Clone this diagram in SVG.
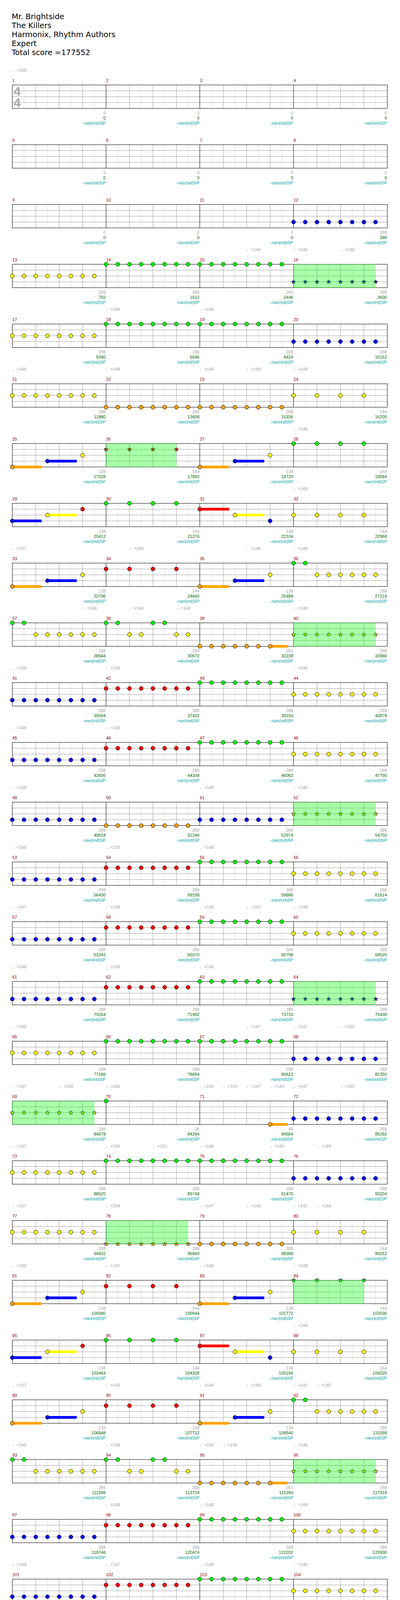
<svg xmlns="http://www.w3.org/2000/svg" xmlns:xlink="http://www.w3.org/1999/xlink" width="1024" height="5572" viewBox="0 0 1024 5572">
<style>
text{font-family:"Liberation Sans",Arial,"DejaVu Sans",sans-serif;font-size:11px}
.hd{font-family:"DejaVu Sans",Verdana,sans-serif;font-size:19.5px;fill:#000}
.n{fill:#8b0000}
.tp{fill:#a0a0a0}
.v1,.v2,.v3{text-anchor:end}
.v1{fill:#a0a0a0}
.v2{fill:#006400}
.v3{fill:#009f9f}
.sp{fill:#00ff00;fill-opacity:.333}
.ts{font-weight:bold;font-size:32px;fill:#a8a8a8}
</style>
<defs>
<g id="grid"><path d="M30 0V60M90 0V60M150 0V60M210 0V60" stroke="#dcdcdc"/><path d="M0 15H240M0 30H240M0 45H240M60 0V60M120 0V60M180 0V60" stroke="#a0a0a0"/></g>
<g id="grid4"><use href="#grid"/><use href="#grid" x="240"/><use href="#grid" x="480"/><use href="#grid" x="720"/><path d="M240 0V60M480 0V60M720 0V60" stroke="#000"/><rect width="960" height="60" fill="none" stroke="#000"/></g>
<g id="grid2"><use href="#grid"/><use href="#grid" x="240"/><path d="M240 0V60" stroke="#000"/><rect width="480" height="60" fill="none" stroke="#000"/></g>
<circle id="G" r="5" fill="#00ff00" stroke="#000"/>
<circle id="R" cy="15" r="5" fill="#ff0000" stroke="#000"/>
<circle id="Y" cy="30" r="5" fill="#ffff00" stroke="#000"/>
<circle id="B" cy="45" r="5" fill="#0000ff" stroke="#000"/>
<circle id="O" cy="60" r="5" fill="#ffa500" stroke="#000"/>
<path id="star" d="M0-5.5L1.35-1.86 5.23-1.7 2.19.71 3.23 4.45 0 2.3-3.23 4.45-2.19.71-5.23-1.7-1.35-1.86Z" stroke="#000"/>
<use id="GS" href="#star" fill="#00ff00"/>
<use id="RS" href="#star" y="15" fill="#ff0000"/>
<use id="YS" href="#star" y="30" fill="#ffff00"/>
<use id="BS" href="#star" y="45" fill="#0000ff"/>
<use id="OS" href="#star" y="60" fill="#ffa500"/>
<g id="e8G"><use href="#G"/><use href="#G" x="30"/><use href="#G" x="60"/><use href="#G" x="90"/><use href="#G" x="120"/><use href="#G" x="150"/><use href="#G" x="180"/><use href="#G" x="210"/></g>
<g id="e8R"><use href="#R"/><use href="#R" x="30"/><use href="#R" x="60"/><use href="#R" x="90"/><use href="#R" x="120"/><use href="#R" x="150"/><use href="#R" x="180"/><use href="#R" x="210"/></g>
<g id="e8Y"><use href="#Y"/><use href="#Y" x="30"/><use href="#Y" x="60"/><use href="#Y" x="90"/><use href="#Y" x="120"/><use href="#Y" x="150"/><use href="#Y" x="180"/><use href="#Y" x="210"/></g>
<g id="e8B"><use href="#B"/><use href="#B" x="30"/><use href="#B" x="60"/><use href="#B" x="90"/><use href="#B" x="120"/><use href="#B" x="150"/><use href="#B" x="180"/><use href="#B" x="210"/></g>
<g id="e8O"><use href="#O"/><use href="#O" x="30"/><use href="#O" x="60"/><use href="#O" x="90"/><use href="#O" x="120"/><use href="#O" x="150"/><use href="#O" x="180"/><use href="#O" x="210"/></g>
<g id="e8YS"><use href="#YS"/><use href="#YS" x="30"/><use href="#YS" x="60"/><use href="#YS" x="90"/><use href="#YS" x="120"/><use href="#YS" x="150"/><use href="#YS" x="180"/><use href="#YS" x="210"/></g>
<g id="e8BS"><use href="#BS"/><use href="#BS" x="30"/><use href="#BS" x="60"/><use href="#BS" x="90"/><use href="#BS" x="120"/><use href="#BS" x="150"/><use href="#BS" x="180"/><use href="#BS" x="210"/></g>
<g id="e8OS"><use href="#OS"/><use href="#OS" x="30"/><use href="#OS" x="60"/><use href="#OS" x="90"/><use href="#OS" x="120"/><use href="#OS" x="150"/><use href="#OS" x="180"/><use href="#OS" x="210"/></g>
<g id="e7G"><use href="#G"/><use href="#G" x="30"/><use href="#G" x="60"/><use href="#G" x="90"/><use href="#G" x="120"/><use href="#G" x="150"/><use href="#G" x="180"/></g>
<g id="e7R"><use href="#R"/><use href="#R" x="30"/><use href="#R" x="60"/><use href="#R" x="90"/><use href="#R" x="120"/><use href="#R" x="150"/><use href="#R" x="180"/></g>
<g id="q4G"><use href="#G"/><use href="#G" x="60"/><use href="#G" x="120"/><use href="#G" x="180"/></g>
<g id="q4R"><use href="#R"/><use href="#R" x="60"/><use href="#R" x="120"/><use href="#R" x="180"/></g>
<g id="q4Y"><use href="#Y"/><use href="#Y" x="60"/><use href="#Y" x="120"/><use href="#Y" x="180"/></g>
<g id="q4RS"><use href="#RS"/><use href="#RS" x="60"/><use href="#RS" x="120"/><use href="#RS" x="180"/></g>
<g id="q4GS"><use href="#GS"/><use href="#GS" x="60"/><use href="#GS" x="120"/><use href="#GS" x="180"/></g>
<g id="rA"><rect y="56.5" width="75" height="7" fill="#ffa500"/><rect x="90" y="41.5" width="75" height="7" fill="#0000ff"/><use href="#O"/><use href="#B" x="90"/><use href="#Y" x="180"/></g>
<g id="rB"><rect y="41.5" width="75" height="7" fill="#0000ff"/><rect x="90" y="26.5" width="75" height="7" fill="#ffff00"/><use href="#B"/><use href="#Y" x="90"/><use href="#R" x="180"/></g>
<g id="rC"><rect y="11.5" width="75" height="7" fill="#ff0000"/><rect x="90" y="26.5" width="75" height="7" fill="#ffff00"/><use href="#R"/><use href="#Y" x="90"/><use href="#B" x="180"/></g>
<g id="rD"><use href="#G"/><use href="#G" x="30"/><use href="#Y" x="60"/><use href="#Y" x="90"/><use href="#Y" x="120"/><use href="#Y" x="150"/><use href="#Y" x="180"/><use href="#Y" x="210"/></g>
<g id="rE"><use href="#G"/><use href="#G" x="30"/><use href="#Y" x="60"/><use href="#Y" x="90"/><use href="#G" x="120"/><use href="#G" x="150"/><use href="#Y" x="180"/><use href="#Y" x="210"/></g>
<g id="rF"><rect x="180" y="56.5" width="45" height="7" fill="#ffa500"/><use href="#O"/><use href="#O" x="30"/><use href="#O" x="60"/><use href="#O" x="90"/><use href="#O" x="120"/><use href="#O" x="150"/><use href="#O" x="180"/></g>
</defs>
<rect width="1024" height="5572" fill="#fff"/>
<g id="header">
<text class="hd" x="30" y="49">Mr. Brightside</text>
<text class="hd" x="30" y="72">The Killers</text>
<text class="hd" x="30" y="95">Harmonix, Rhythm Authors</text>
<text class="hd" x="30" y="118">Expert</text>
<text class="hd" x="30" y="141">Total score =177552</text>
</g>

<g id="row1" transform="translate(31.5,217.5)">
<use href="#grid4"/>
<text class="ts" x="3.5" y="27.5">4</text><text class="ts" x="3.5" y="56.5">4</text>
<text class="tp" x="0" y="-33.5">♩=148</text>
<g id="m1"><text class="n" x="0" y="-7.5">1</text><text class="v1" x="239" y="75">0</text><text class="v2" x="239" y="88">0</text><text class="v3" x="239" y="101">-nan(ind)SP</text></g>
<g id="m2"><text class="n" x="240" y="-7.5">2</text><text class="v1" x="479" y="75">0</text><text class="v2" x="479" y="88">0</text><text class="v3" x="479" y="101">-nan(ind)SP</text></g>
<g id="m3"><text class="n" x="480" y="-7.5">3</text><text class="v1" x="719" y="75">0</text><text class="v2" x="719" y="88">0</text><text class="v3" x="719" y="101">-nan(ind)SP</text></g>
<g id="m4"><text class="n" x="720" y="-7.5">4</text><text class="v1" x="959" y="75">0</text><text class="v2" x="959" y="88">0</text><text class="v3" x="959" y="101">-nan(ind)SP</text></g>
</g>

<g id="row2" transform="translate(31.5,370.5)">
<use href="#grid4"/>
<g id="m5"><text class="n" x="0" y="-7.5">5</text><text class="v1" x="239" y="75">0</text><text class="v2" x="239" y="88">0</text><text class="v3" x="239" y="101">-nan(ind)SP</text></g>
<g id="m6"><text class="n" x="240" y="-7.5">6</text><text class="v1" x="479" y="75">0</text><text class="v2" x="479" y="88">0</text><text class="v3" x="479" y="101">-nan(ind)SP</text></g>
<g id="m7"><text class="n" x="480" y="-7.5">7</text><text class="v1" x="719" y="75">0</text><text class="v2" x="719" y="88">0</text><text class="v3" x="719" y="101">-nan(ind)SP</text></g>
<g id="m8"><text class="n" x="720" y="-7.5">8</text><text class="v1" x="959" y="75">0</text><text class="v2" x="959" y="88">0</text><text class="v3" x="959" y="101">-nan(ind)SP</text></g>
</g>

<g id="row3" transform="translate(31.5,523.5)">
<use href="#grid4"/>
<g id="m9"><text class="n" x="0" y="-7.5">9</text><text class="v1" x="239" y="75">0</text><text class="v2" x="239" y="88">0</text><text class="v3" x="239" y="101">-nan(ind)SP</text></g>
<g id="m10"><text class="n" x="240" y="-7.5">10</text><text class="v1" x="479" y="75">0</text><text class="v2" x="479" y="88">0</text><text class="v3" x="479" y="101">-nan(ind)SP</text></g>
<g id="m11"><text class="n" x="480" y="-7.5">11</text><text class="v1" x="719" y="75">0</text><text class="v2" x="719" y="88">0</text><text class="v3" x="719" y="101">-nan(ind)SP</text></g>
<g id="m12"><text class="n" x="720" y="-7.5">12</text><use href="#e8B" x="720"/><text class="v1" x="959" y="75">288</text><text class="v2" x="959" y="88">288</text><text class="v3" x="959" y="101">-nan(ind)SP</text></g>
</g>

<g id="row4" transform="translate(31.5,676.5)">
<use href="#grid4"/>
<text class="tp" x="600" y="-33.5">♩=145</text><text class="tp" x="720" y="-33.5">♩=146</text><text class="tp" x="840" y="-33.5">♩=148</text>
<g id="m13"><text class="n" x="0" y="-7.5">13</text><use href="#e8Y"/><text class="v1" x="239" y="75">288</text><text class="v2" x="239" y="88">792</text><text class="v3" x="239" y="101">-nan(ind)SP</text></g>
<g id="m14"><text class="n" x="240" y="-7.5">14</text><use href="#e8G" x="240"/><text class="v1" x="479" y="75">288</text><text class="v2" x="479" y="88">1512</text><text class="v3" x="479" y="101">-nan(ind)SP</text></g>
<g id="m15"><text class="n" x="480" y="-7.5">15</text><use href="#e8G" x="480"/><text class="v1" x="719" y="75">288</text><text class="v2" x="719" y="88">2448</text><text class="v3" x="719" y="101">-nan(ind)SP</text></g>
<g id="m16"><text class="n" x="720" y="-7.5">16</text><use href="#e8BS" x="720"/><rect class="sp" x="719.5" y="-0.5" width="210.5" height="61"/><text class="v1" x="959" y="75">288</text><text class="v2" x="959" y="88">3600</text><text class="v3" x="959" y="101">-nan(ind)SP</text></g>
</g>

<g id="row5" transform="translate(31.5,829.5)">
<use href="#grid4"/>
<text class="tp" x="240" y="-33.5">♩=149</text><text class="tp" x="480" y="-33.5">♩=149</text>
<g id="m17"><text class="n" x="0" y="-7.5">17</text><use href="#e8Y"/><text class="v1" x="239" y="75">288</text><text class="v2" x="239" y="88">5040</text><text class="v3" x="239" y="101">-nan(ind)SP</text></g>
<g id="m18"><text class="n" x="240" y="-7.5">18</text><use href="#e8G" x="240"/><text class="v1" x="479" y="75">288</text><text class="v2" x="479" y="88">6696</text><text class="v3" x="479" y="101">-nan(ind)SP</text></g>
<g id="m19"><text class="n" x="480" y="-7.5">19</text><use href="#e8G" x="480"/><text class="v1" x="719" y="75">288</text><text class="v2" x="719" y="88">8424</text><text class="v3" x="719" y="101">-nan(ind)SP</text></g>
<g id="m20"><text class="n" x="720" y="-7.5">20</text><use href="#e8B" x="720"/><text class="v1" x="959" y="75">288</text><text class="v2" x="959" y="88">10152</text><text class="v3" x="959" y="101">-nan(ind)SP</text></g>
</g>

<g id="row6" transform="translate(31.5,982.5)">
<use href="#grid4"/>
<text class="tp" x="0" y="-33.5">♩=146</text><text class="tp" x="240" y="-33.5">♩=148</text><text class="tp" x="480" y="-33.5">♩=148</text><text class="tp" x="600" y="-33.5">♩=149</text><text class="tp" x="720" y="-33.5">♩=148</text>
<g id="m21"><text class="n" x="0" y="-7.5">21</text><use href="#e8Y"/><text class="v1" x="239" y="75">288</text><text class="v2" x="239" y="88">11880</text><text class="v3" x="239" y="101">-nan(ind)SP</text></g>
<g id="m22"><text class="n" x="240" y="-7.5">22</text><use href="#e8O" x="240"/><text class="v1" x="479" y="75">288</text><text class="v2" x="479" y="88">13608</text><text class="v3" x="479" y="101">-nan(ind)SP</text></g>
<g id="m23"><text class="n" x="480" y="-7.5">23</text><use href="#e8O" x="480"/><text class="v1" x="719" y="75">288</text><text class="v2" x="719" y="88">15336</text><text class="v3" x="719" y="101">-nan(ind)SP</text></g>
<g id="m24"><text class="n" x="720" y="-7.5">24</text><use href="#q4Y" x="720"/><text class="v1" x="959" y="75">144</text><text class="v2" x="959" y="88">16200</text><text class="v3" x="959" y="101">-nan(ind)SP</text></g>
</g>

<g id="row7" transform="translate(31.5,1135.5)">
<use href="#grid4"/>
<text class="tp" x="720" y="-33.5">♩=148</text>
<g id="m25"><text class="n" x="0" y="-7.5">25</text><use href="#rA"/><text class="v1" x="239" y="75">138</text><text class="v2" x="239" y="88">17028</text><text class="v3" x="239" y="101">-nan(ind)SP</text></g>
<g id="m26"><text class="n" x="240" y="-7.5">26</text><use href="#q4RS" x="240"/><rect class="sp" x="239.5" y="-0.5" width="180.5" height="61"/><text class="v1" x="479" y="75">144</text><text class="v2" x="479" y="88">17892</text><text class="v3" x="479" y="101">-nan(ind)SP</text></g>
<g id="m27"><text class="n" x="480" y="-7.5">27</text><use href="#rA" x="480"/><text class="v1" x="719" y="75">138</text><text class="v2" x="719" y="88">18720</text><text class="v3" x="719" y="101">-nan(ind)SP</text></g>
<g id="m28"><text class="n" x="720" y="-7.5">28</text><use href="#q4G" x="720"/><text class="v1" x="959" y="75">144</text><text class="v2" x="959" y="88">19584</text><text class="v3" x="959" y="101">-nan(ind)SP</text></g>
</g>

<g id="row8" transform="translate(31.5,1288.5)">
<use href="#grid4"/>
<text class="tp" x="720" y="-33.5">♩=149</text>
<g id="m29"><text class="n" x="0" y="-7.5">29</text><use href="#rB"/><text class="v1" x="239" y="75">138</text><text class="v2" x="239" y="88">20412</text><text class="v3" x="239" y="101">-nan(ind)SP</text></g>
<g id="m30"><text class="n" x="240" y="-7.5">30</text><use href="#q4G" x="240"/><text class="v1" x="479" y="75">144</text><text class="v2" x="479" y="88">21276</text><text class="v3" x="479" y="101">-nan(ind)SP</text></g>
<g id="m31"><text class="n" x="480" y="-7.5">31</text><use href="#rC" x="480"/><text class="v1" x="719" y="75">138</text><text class="v2" x="719" y="88">22104</text><text class="v3" x="719" y="101">-nan(ind)SP</text></g>
<g id="m32"><text class="n" x="720" y="-7.5">32</text><use href="#q4Y" x="720"/><text class="v1" x="959" y="75">144</text><text class="v2" x="959" y="88">22968</text><text class="v3" x="959" y="101">-nan(ind)SP</text></g>
</g>

<g id="row9" transform="translate(31.5,1441.5)">
<use href="#grid4"/>
<text class="tp" x="0" y="-33.5">♩=147</text><text class="tp" x="300" y="-33.5">♩=150</text><text class="tp" x="600" y="-33.5">♩=146</text><text class="tp" x="720" y="-33.5">♩=148</text>
<g id="m33"><text class="n" x="0" y="-7.5">33</text><use href="#rA"/><text class="v1" x="239" y="75">138</text><text class="v2" x="239" y="88">23796</text><text class="v3" x="239" y="101">-nan(ind)SP</text></g>
<g id="m34"><text class="n" x="240" y="-7.5">34</text><use href="#q4R" x="240"/><text class="v1" x="479" y="75">144</text><text class="v2" x="479" y="88">24660</text><text class="v3" x="479" y="101">-nan(ind)SP</text></g>
<g id="m35"><text class="n" x="480" y="-7.5">35</text><use href="#rA" x="480"/><text class="v1" x="719" y="75">138</text><text class="v2" x="719" y="88">25488</text><text class="v3" x="719" y="101">-nan(ind)SP</text></g>
<g id="m36"><text class="n" x="720" y="-7.5">36</text><use href="#rD" x="720"/><text class="v1" x="959" y="75">288</text><text class="v2" x="959" y="88">27216</text><text class="v3" x="959" y="101">-nan(ind)SP</text></g>
</g>

<g id="row10" transform="translate(31.5,1594.5)">
<use href="#grid4"/>
<text class="tp" x="180" y="-33.5">♩=146</text><text class="tp" x="300" y="-33.5">♩=149</text><text class="tp" x="420" y="-33.5">♩=148</text><text class="tp" x="720" y="-33.5">♩=148</text>
<g id="m37"><text class="n" x="0" y="-7.5">37</text><use href="#rD"/><text class="v1" x="239" y="75">288</text><text class="v2" x="239" y="88">28944</text><text class="v3" x="239" y="101">-nan(ind)SP</text></g>
<g id="m38"><text class="n" x="240" y="-7.5">38</text><use href="#rE" x="240"/><text class="v1" x="479" y="75">288</text><text class="v2" x="479" y="88">30672</text><text class="v3" x="479" y="101">-nan(ind)SP</text></g>
<g id="m39"><text class="n" x="480" y="-7.5">39</text><use href="#rF" x="480"/><text class="v1" x="719" y="75">261</text><text class="v2" x="719" y="88">32238</text><text class="v3" x="719" y="101">-nan(ind)SP</text></g>
<g id="m40"><text class="n" x="720" y="-7.5">40</text><use href="#e8YS" x="720"/><rect class="sp" x="719.5" y="-0.5" width="210.5" height="61"/><text class="v1" x="959" y="75">288</text><text class="v2" x="959" y="88">33966</text><text class="v3" x="959" y="101">-nan(ind)SP</text></g>
</g>

<g id="row11" transform="translate(31.5,1747.5)">
<use href="#grid4"/>
<text class="tp" x="0" y="-33.5">♩=148</text><text class="tp" x="240" y="-33.5">♩=149</text><text class="tp" x="720" y="-33.5">♩=146</text>
<g id="m41"><text class="n" x="0" y="-7.5">41</text><use href="#e8B"/><text class="v1" x="239" y="75">288</text><text class="v2" x="239" y="88">35694</text><text class="v3" x="239" y="101">-nan(ind)SP</text></g>
<g id="m42"><text class="n" x="240" y="-7.5">42</text><use href="#e8R" x="240"/><text class="v1" x="479" y="75">288</text><text class="v2" x="479" y="88">37422</text><text class="v3" x="479" y="101">-nan(ind)SP</text></g>
<g id="m43"><text class="n" x="480" y="-7.5">43</text><use href="#e8G" x="480"/><text class="v1" x="719" y="75">288</text><text class="v2" x="719" y="88">39150</text><text class="v3" x="719" y="101">-nan(ind)SP</text></g>
<g id="m44"><text class="n" x="720" y="-7.5">44</text><use href="#e8Y" x="720"/><text class="v1" x="959" y="75">288</text><text class="v2" x="959" y="88">40878</text><text class="v3" x="959" y="101">-nan(ind)SP</text></g>
</g>

<g id="row12" transform="translate(31.5,1900.5)">
<use href="#grid4"/>
<text class="tp" x="0" y="-33.5">♩=148</text><text class="tp" x="240" y="-33.5">♩=149</text>
<g id="m45"><text class="n" x="0" y="-7.5">45</text><use href="#e8B"/><text class="v1" x="239" y="75">288</text><text class="v2" x="239" y="88">42606</text><text class="v3" x="239" y="101">-nan(ind)SP</text></g>
<g id="m46"><text class="n" x="240" y="-7.5">46</text><use href="#e8R" x="240"/><text class="v1" x="479" y="75">288</text><text class="v2" x="479" y="88">44334</text><text class="v3" x="479" y="101">-nan(ind)SP</text></g>
<g id="m47"><text class="n" x="480" y="-7.5">47</text><use href="#e8G" x="480"/><text class="v1" x="719" y="75">288</text><text class="v2" x="719" y="88">46062</text><text class="v3" x="719" y="101">-nan(ind)SP</text></g>
<g id="m48"><text class="n" x="720" y="-7.5">48</text><use href="#e8Y" x="720"/><text class="v1" x="959" y="75">288</text><text class="v2" x="959" y="88">47790</text><text class="v3" x="959" y="101">-nan(ind)SP</text></g>
</g>

<g id="row13" transform="translate(31.5,2053.5)">
<use href="#grid4"/>
<text class="tp" x="0" y="-33.5">♩=148</text><text class="tp" x="480" y="-33.5">♩=148</text><text class="tp" x="720" y="-33.5">♩=146</text>
<g id="m49"><text class="n" x="0" y="-7.5">49</text><use href="#e8B"/><text class="v1" x="239" y="75">288</text><text class="v2" x="239" y="88">49518</text><text class="v3" x="239" y="101">-nan(ind)SP</text></g>
<g id="m50"><text class="n" x="240" y="-7.5">50</text><use href="#e8O" x="240"/><text class="v1" x="479" y="75">288</text><text class="v2" x="479" y="88">51246</text><text class="v3" x="479" y="101">-nan(ind)SP</text></g>
<g id="m51"><text class="n" x="480" y="-7.5">51</text><use href="#e8B" x="480"/><text class="v1" x="719" y="75">288</text><text class="v2" x="719" y="88">52974</text><text class="v3" x="719" y="101">-nan(ind)SP</text></g>
<g id="m52"><text class="n" x="720" y="-7.5">52</text><use href="#e8YS" x="720"/><rect class="sp" x="719.5" y="-0.5" width="210.5" height="61"/><text class="v1" x="959" y="75">288</text><text class="v2" x="959" y="88">54702</text><text class="v3" x="959" y="101">-nan(ind)SP</text></g>
</g>

<g id="row14" transform="translate(31.5,2206.5)">
<use href="#grid4"/>
<text class="tp" x="0" y="-33.5">♩=148</text><text class="tp" x="240" y="-33.5">♩=150</text><text class="tp" x="480" y="-33.5">♩=148</text>
<g id="m53"><text class="n" x="0" y="-7.5">53</text><use href="#e8B"/><text class="v1" x="239" y="75">288</text><text class="v2" x="239" y="88">56430</text><text class="v3" x="239" y="101">-nan(ind)SP</text></g>
<g id="m54"><text class="n" x="240" y="-7.5">54</text><use href="#e8R" x="240"/><text class="v1" x="479" y="75">288</text><text class="v2" x="479" y="88">58158</text><text class="v3" x="479" y="101">-nan(ind)SP</text></g>
<g id="m55"><text class="n" x="480" y="-7.5">55</text><use href="#e8G" x="480"/><text class="v1" x="719" y="75">288</text><text class="v2" x="719" y="88">59886</text><text class="v3" x="719" y="101">-nan(ind)SP</text></g>
<g id="m56"><text class="n" x="720" y="-7.5">56</text><use href="#e8Y" x="720"/><text class="v1" x="959" y="75">288</text><text class="v2" x="959" y="88">61614</text><text class="v3" x="959" y="101">-nan(ind)SP</text></g>
</g>

<g id="row15" transform="translate(31.5,2359.5)">
<use href="#grid4"/>
<text class="tp" x="0" y="-33.5">♩=147</text><text class="tp" x="240" y="-33.5">♩=148</text><text class="tp" x="480" y="-33.5">♩=149</text><text class="tp" x="600" y="-33.5">♩=143</text><text class="tp" x="720" y="-33.5">♩=149</text>
<g id="m57"><text class="n" x="0" y="-7.5">57</text><use href="#e8B"/><text class="v1" x="239" y="75">288</text><text class="v2" x="239" y="88">63342</text><text class="v3" x="239" y="101">-nan(ind)SP</text></g>
<g id="m58"><text class="n" x="240" y="-7.5">58</text><use href="#e8R" x="240"/><text class="v1" x="479" y="75">288</text><text class="v2" x="479" y="88">65070</text><text class="v3" x="479" y="101">-nan(ind)SP</text></g>
<g id="m59"><text class="n" x="480" y="-7.5">59</text><use href="#e8G" x="480"/><text class="v1" x="719" y="75">288</text><text class="v2" x="719" y="88">66798</text><text class="v3" x="719" y="101">-nan(ind)SP</text></g>
<g id="m60"><text class="n" x="720" y="-7.5">60</text><use href="#e8Y" x="720"/><text class="v1" x="959" y="75">288</text><text class="v2" x="959" y="88">68526</text><text class="v3" x="959" y="101">-nan(ind)SP</text></g>
</g>

<g id="row16" transform="translate(31.5,2512.5)">
<use href="#grid4"/>
<text class="tp" x="0" y="-33.5">♩=148</text><text class="tp" x="240" y="-33.5">♩=149</text><text class="tp" x="480" y="-33.5">♩=149</text>
<g id="m61"><text class="n" x="0" y="-7.5">61</text><use href="#e8B"/><text class="v1" x="239" y="75">288</text><text class="v2" x="239" y="88">70254</text><text class="v3" x="239" y="101">-nan(ind)SP</text></g>
<g id="m62"><text class="n" x="240" y="-7.5">62</text><use href="#e8R" x="240"/><text class="v1" x="479" y="75">288</text><text class="v2" x="479" y="88">71982</text><text class="v3" x="479" y="101">-nan(ind)SP</text></g>
<g id="m63"><text class="n" x="480" y="-7.5">63</text><use href="#e8G" x="480"/><text class="v1" x="719" y="75">288</text><text class="v2" x="719" y="88">73710</text><text class="v3" x="719" y="101">-nan(ind)SP</text></g>
<g id="m64"><text class="n" x="720" y="-7.5">64</text><use href="#e8BS" x="720"/><rect class="sp" x="719.5" y="-0.5" width="210.5" height="61"/><text class="v1" x="959" y="75">288</text><text class="v2" x="959" y="88">75438</text><text class="v3" x="959" y="101">-nan(ind)SP</text></g>
</g>

<g id="row17" transform="translate(31.5,2665.5)">
<use href="#grid4"/>
<text class="tp" x="0" y="-33.5">♩=148</text><text class="tp" x="600" y="-33.5">♩=147</text><text class="tp" x="720" y="-33.5">♩=147</text><text class="tp" x="840" y="-33.5">♩=150</text>
<g id="m65"><text class="n" x="0" y="-7.5">65</text><use href="#e8Y"/><text class="v1" x="239" y="75">288</text><text class="v2" x="239" y="88">77166</text><text class="v3" x="239" y="101">-nan(ind)SP</text></g>
<g id="m66"><text class="n" x="240" y="-7.5">66</text><use href="#e8G" x="240"/><text class="v1" x="479" y="75">288</text><text class="v2" x="479" y="88">78894</text><text class="v3" x="479" y="101">-nan(ind)SP</text></g>
<g id="m67"><text class="n" x="480" y="-7.5">67</text><use href="#e8G" x="480"/><text class="v1" x="719" y="75">288</text><text class="v2" x="719" y="88">80622</text><text class="v3" x="719" y="101">-nan(ind)SP</text></g>
<g id="m68"><text class="n" x="720" y="-7.5">68</text><use href="#e8B" x="720"/><text class="v1" x="959" y="75">288</text><text class="v2" x="959" y="88">82350</text><text class="v3" x="959" y="101">-nan(ind)SP</text></g>
</g>

<g id="row18" transform="translate(31.5,2818.5)">
<use href="#grid4"/>
<text class="tp" x="0" y="-33.5">♩=147</text><text class="tp" x="120" y="-33.5">♩=148</text><text class="tp" x="240" y="-33.5">♩=146</text><text class="tp" x="480" y="-33.5">♩=155</text><text class="tp" x="540" y="-33.5">♩=150</text><text class="tp" x="600" y="-33.5">♩=147</text><text class="tp" x="660" y="-33.5">♩=143</text><text class="tp" x="720" y="-33.5">♩=147</text><text class="tp" x="840" y="-33.5">♩=150</text>
<g id="m69"><text class="n" x="0" y="-7.5">69</text><use href="#e8YS"/><rect class="sp" x="-0.5" y="-0.5" width="210.5" height="61"/><text class="v1" x="239" y="75">288</text><text class="v2" x="239" y="88">84078</text><text class="v3" x="239" y="101">-nan(ind)SP</text></g>
<g id="m70"><text class="n" x="240" y="-7.5">70</text><use href="#G" x="240"/><text class="v1" x="479" y="75">36</text><text class="v2" x="479" y="88">84294</text><text class="v3" x="479" y="101">-nan(ind)SP</text></g>
<g id="m71"><text class="n" x="480" y="-7.5">71</text><rect x="660" y="56.5" width="45" height="7" fill="#ffa500"/><use href="#O" x="660"/><text class="v1" x="719" y="75">45</text><text class="v2" x="719" y="88">84564</text><text class="v3" x="719" y="101">-nan(ind)SP</text></g>
<g id="m72"><text class="n" x="720" y="-7.5">72</text><use href="#e8B" x="720"/><text class="v1" x="959" y="75">288</text><text class="v2" x="959" y="88">86292</text><text class="v3" x="959" y="101">-nan(ind)SP</text></g>
</g>

<g id="row19" transform="translate(31.5,2971.5)">
<use href="#grid4"/>
<text class="tp" x="0" y="-33.5">♩=147</text><text class="tp" x="240" y="-33.5">♩=149</text><text class="tp" x="360" y="-33.5">♩=151</text><text class="tp" x="480" y="-33.5">♩=146</text><text class="tp" x="660" y="-33.5">♩=150</text><text class="tp" x="780" y="-33.5">♩=149</text>
<g id="m73"><text class="n" x="0" y="-7.5">73</text><use href="#e8Y"/><text class="v1" x="239" y="75">288</text><text class="v2" x="239" y="88">88020</text><text class="v3" x="239" y="101">-nan(ind)SP</text></g>
<g id="m74"><text class="n" x="240" y="-7.5">74</text><use href="#e8G" x="240"/><text class="v1" x="479" y="75">288</text><text class="v2" x="479" y="88">89748</text><text class="v3" x="479" y="101">-nan(ind)SP</text></g>
<g id="m75"><text class="n" x="480" y="-7.5">75</text><use href="#e8G" x="480"/><text class="v1" x="719" y="75">288</text><text class="v2" x="719" y="88">91476</text><text class="v3" x="719" y="101">-nan(ind)SP</text></g>
<g id="m76"><text class="n" x="720" y="-7.5">76</text><use href="#e8B" x="720"/><text class="v1" x="959" y="75">288</text><text class="v2" x="959" y="88">93204</text><text class="v3" x="959" y="101">-nan(ind)SP</text></g>
</g>

<g id="row20" transform="translate(31.5,3124.5)">
<use href="#grid4"/>
<text class="tp" x="0" y="-33.5">♩=147</text><text class="tp" x="240" y="-33.5">♩=148</text><text class="tp" x="480" y="-33.5">♩=147</text><text class="tp" x="600" y="-33.5">♩=149</text><text class="tp" x="720" y="-33.5">♩=142</text><text class="tp" x="780" y="-33.5">♩=149</text>
<g id="m77"><text class="n" x="0" y="-7.5">77</text><use href="#e8Y"/><text class="v1" x="239" y="75">288</text><text class="v2" x="239" y="88">94932</text><text class="v3" x="239" y="101">-nan(ind)SP</text></g>
<g id="m78"><text class="n" x="240" y="-7.5">78</text><use href="#e8OS" x="240"/><rect class="sp" x="239.5" y="-0.5" width="210.5" height="61"/><text class="v1" x="479" y="75">288</text><text class="v2" x="479" y="88">96660</text><text class="v3" x="479" y="101">-nan(ind)SP</text></g>
<g id="m79"><text class="n" x="480" y="-7.5">79</text><use href="#e8O" x="480"/><text class="v1" x="719" y="75">288</text><text class="v2" x="719" y="88">98388</text><text class="v3" x="719" y="101">-nan(ind)SP</text></g>
<g id="m80"><text class="n" x="720" y="-7.5">80</text><use href="#q4Y" x="720"/><text class="v1" x="959" y="75">144</text><text class="v2" x="959" y="88">99252</text><text class="v3" x="959" y="101">-nan(ind)SP</text></g>
</g>

<g id="row21" transform="translate(31.5,3277.5)">
<use href="#grid4"/>
<text class="tp" x="0" y="-33.5">♩=149</text><text class="tp" x="240" y="-33.5">♩=147</text><text class="tp" x="480" y="-33.5">♩=148</text><text class="tp" x="720" y="-33.5">♩=148</text>
<g id="m81"><text class="n" x="0" y="-7.5">81</text><use href="#rA"/><text class="v1" x="239" y="75">138</text><text class="v2" x="239" y="88">100080</text><text class="v3" x="239" y="101">-nan(ind)SP</text></g>
<g id="m82"><text class="n" x="240" y="-7.5">82</text><use href="#q4R" x="240"/><text class="v1" x="479" y="75">144</text><text class="v2" x="479" y="88">100944</text><text class="v3" x="479" y="101">-nan(ind)SP</text></g>
<g id="m83"><text class="n" x="480" y="-7.5">83</text><use href="#rA" x="480"/><text class="v1" x="719" y="75">138</text><text class="v2" x="719" y="88">101772</text><text class="v3" x="719" y="101">-nan(ind)SP</text></g>
<g id="m84"><text class="n" x="720" y="-7.5">84</text><use href="#q4GS" x="720"/><rect class="sp" x="719.5" y="-0.5" width="180.5" height="61"/><text class="v1" x="959" y="75">144</text><text class="v2" x="959" y="88">102636</text><text class="v3" x="959" y="101">-nan(ind)SP</text></g>
</g>

<g id="row22" transform="translate(31.5,3430.5)">
<use href="#grid4"/>
<text class="tp" x="720" y="-33.5">♩=148</text>
<g id="m85"><text class="n" x="0" y="-7.5">85</text><use href="#rB"/><text class="v1" x="239" y="75">138</text><text class="v2" x="239" y="88">103464</text><text class="v3" x="239" y="101">-nan(ind)SP</text></g>
<g id="m86"><text class="n" x="240" y="-7.5">86</text><use href="#q4G" x="240"/><text class="v1" x="479" y="75">144</text><text class="v2" x="479" y="88">104328</text><text class="v3" x="479" y="101">-nan(ind)SP</text></g>
<g id="m87"><text class="n" x="480" y="-7.5">87</text><use href="#rC" x="480"/><text class="v1" x="719" y="75">138</text><text class="v2" x="719" y="88">105156</text><text class="v3" x="719" y="101">-nan(ind)SP</text></g>
<g id="m88"><text class="n" x="720" y="-7.5">88</text><use href="#q4Y" x="720"/><text class="v1" x="959" y="75">144</text><text class="v2" x="959" y="88">106020</text><text class="v3" x="959" y="101">-nan(ind)SP</text></g>
</g>

<g id="row23" transform="translate(31.5,3583.5)">
<use href="#grid4"/>
<text class="tp" x="0" y="-33.5">♩=147</text><text class="tp" x="240" y="-33.5">♩=149</text><text class="tp" x="480" y="-33.5">♩=148</text><text class="tp" x="600" y="-33.5">♩=149</text><text class="tp" x="720" y="-33.5">♩=141</text><text class="tp" x="780" y="-33.5">♩=145</text>
<g id="m89"><text class="n" x="0" y="-7.5">89</text><use href="#rA"/><text class="v1" x="239" y="75">138</text><text class="v2" x="239" y="88">106848</text><text class="v3" x="239" y="101">-nan(ind)SP</text></g>
<g id="m90"><text class="n" x="240" y="-7.5">90</text><use href="#q4R" x="240"/><text class="v1" x="479" y="75">144</text><text class="v2" x="479" y="88">107712</text><text class="v3" x="479" y="101">-nan(ind)SP</text></g>
<g id="m91"><text class="n" x="480" y="-7.5">91</text><use href="#rA" x="480"/><text class="v1" x="719" y="75">138</text><text class="v2" x="719" y="88">108540</text><text class="v3" x="719" y="101">-nan(ind)SP</text></g>
<g id="m92"><text class="n" x="720" y="-7.5">92</text><use href="#rD" x="720"/><text class="v1" x="959" y="75">288</text><text class="v2" x="959" y="88">110268</text><text class="v3" x="959" y="101">-nan(ind)SP</text></g>
</g>

<g id="row24" transform="translate(31.5,3736.5)">
<use href="#grid4"/>
<text class="tp" x="0" y="-33.5">♩=149</text><text class="tp" x="240" y="-33.5">♩=148</text><text class="tp" x="480" y="-33.5">♩=150</text><text class="tp" x="540" y="-33.5">♩=148</text><text class="tp" x="720" y="-33.5">♩=148</text>
<g id="m93"><text class="n" x="0" y="-7.5">93</text><use href="#rD"/><text class="v1" x="239" y="75">288</text><text class="v2" x="239" y="88">111996</text><text class="v3" x="239" y="101">-nan(ind)SP</text></g>
<g id="m94"><text class="n" x="240" y="-7.5">94</text><use href="#rE" x="240"/><text class="v1" x="479" y="75">288</text><text class="v2" x="479" y="88">113724</text><text class="v3" x="479" y="101">-nan(ind)SP</text></g>
<g id="m95"><text class="n" x="480" y="-7.5">95</text><use href="#rF" x="480"/><text class="v1" x="719" y="75">261</text><text class="v2" x="719" y="88">115290</text><text class="v3" x="719" y="101">-nan(ind)SP</text></g>
<g id="m96"><text class="n" x="720" y="-7.5">96</text><use href="#e8YS" x="720"/><rect class="sp" x="719.5" y="-0.5" width="210.5" height="61"/><text class="v1" x="959" y="75">288</text><text class="v2" x="959" y="88">117018</text><text class="v3" x="959" y="101">-nan(ind)SP</text></g>
</g>

<g id="row25" transform="translate(31.5,3889.5)">
<use href="#grid4"/>
<text class="tp" x="240" y="-33.5">♩=148</text><text class="tp" x="480" y="-33.5">♩=148</text><text class="tp" x="720" y="-33.5">♩=148</text>
<g id="m97"><text class="n" x="0" y="-7.5">97</text><use href="#e8B"/><text class="v1" x="239" y="75">288</text><text class="v2" x="239" y="88">118746</text><text class="v3" x="239" y="101">-nan(ind)SP</text></g>
<g id="m98"><text class="n" x="240" y="-7.5">98</text><use href="#e8R" x="240"/><text class="v1" x="479" y="75">288</text><text class="v2" x="479" y="88">120474</text><text class="v3" x="479" y="101">-nan(ind)SP</text></g>
<g id="m99"><text class="n" x="480" y="-7.5">99</text><use href="#e8G" x="480"/><text class="v1" x="719" y="75">288</text><text class="v2" x="719" y="88">122202</text><text class="v3" x="719" y="101">-nan(ind)SP</text></g>
<g id="m100"><text class="n" x="720" y="-7.5">100</text><use href="#e8Y" x="720"/><text class="v1" x="959" y="75">288</text><text class="v2" x="959" y="88">123930</text><text class="v3" x="959" y="101">-nan(ind)SP</text></g>
</g>

<g id="row26" transform="translate(31.5,4042.5)">
<use href="#grid4"/>
<text class="tp" x="0" y="-33.5">♩=149</text><text class="tp" x="240" y="-33.5">♩=147</text><text class="tp" x="480" y="-33.5">♩=149</text><text class="tp" x="720" y="-33.5">♩=148</text>
<g id="m101"><text class="n" x="0" y="-7.5">101</text><use href="#e8B"/><text class="v1" x="239" y="75">288</text><text class="v2" x="239" y="88">125658</text><text class="v3" x="239" y="101">-nan(ind)SP</text></g>
<g id="m102"><text class="n" x="240" y="-7.5">102</text><use href="#e8R" x="240"/><text class="v1" x="479" y="75">288</text><text class="v2" x="479" y="88">127386</text><text class="v3" x="479" y="101">-nan(ind)SP</text></g>
<g id="m103"><text class="n" x="480" y="-7.5">103</text><use href="#e8G" x="480"/><text class="v1" x="719" y="75">288</text><text class="v2" x="719" y="88">129114</text><text class="v3" x="719" y="101">-nan(ind)SP</text></g>
<g id="m104"><text class="n" x="720" y="-7.5">104</text><use href="#e8Y" x="720"/><text class="v1" x="959" y="75">288</text><text class="v2" x="959" y="88">130842</text><text class="v3" x="959" y="101">-nan(ind)SP</text></g>
</g>

<g id="row27" transform="translate(31.5,4195.5)">
<use href="#grid4"/>
<text class="tp" x="240" y="-33.5">♩=148</text><text class="tp" x="480" y="-33.5">♩=149</text><text class="tp" x="720" y="-33.5">♩=145</text>
<g id="m105"><text class="n" x="0" y="-7.5">105</text><use href="#e8B"/><text class="v1" x="239" y="75">288</text><text class="v2" x="239" y="88">132570</text><text class="v3" x="239" y="101">-nan(ind)SP</text></g>
<g id="m106"><text class="n" x="240" y="-7.5">106</text><use href="#e8O" x="240"/><text class="v1" x="479" y="75">288</text><text class="v2" x="479" y="88">134298</text><text class="v3" x="479" y="101">-nan(ind)SP</text></g>
<g id="m107"><text class="n" x="480" y="-7.5">107</text><use href="#e8BS" x="480"/><rect class="sp" x="479.5" y="-0.5" width="210.5" height="61"/><text class="v1" x="719" y="75">288</text><text class="v2" x="719" y="88">136026</text><text class="v3" x="719" y="101">-nan(ind)SP</text></g>
<g id="m108"><text class="n" x="720" y="-7.5">108</text><use href="#e8Y" x="720"/><text class="v1" x="959" y="75">288</text><text class="v2" x="959" y="88">137754</text><text class="v3" x="959" y="101">-nan(ind)SP</text></g>
</g>

<g id="row28" transform="translate(31.5,4348.5)">
<use href="#grid4"/>
<text class="tp" x="0" y="-33.5">♩=149</text><text class="tp" x="480" y="-33.5">♩=147</text><text class="tp" x="600" y="-33.5">♩=145</text><text class="tp" x="720" y="-33.5">♩=148</text>
<g id="m109"><text class="n" x="0" y="-7.5">109</text><use href="#e8B"/><text class="v1" x="239" y="75">288</text><text class="v2" x="239" y="88">139482</text><text class="v3" x="239" y="101">-nan(ind)SP</text></g>
<g id="m110"><text class="n" x="240" y="-7.5">110</text><use href="#e8R" x="240"/><text class="v1" x="479" y="75">288</text><text class="v2" x="479" y="88">141210</text><text class="v3" x="479" y="101">-nan(ind)SP</text></g>
<g id="m111"><text class="n" x="480" y="-7.5">111</text><use href="#e7G" x="480"/><text class="v1" x="719" y="75">252</text><text class="v2" x="719" y="88">142722</text><text class="v3" x="719" y="101">-nan(ind)SP</text></g>
<g id="m112"><text class="n" x="720" y="-7.5">112</text><rect x="720" y="-3.5" width="225" height="7" fill="#00ff00"/><rect x="720" y="56.5" width="225" height="7" fill="#ffa500"/><use href="#G" x="720"/><use href="#O" x="720"/><text class="v1" x="959" y="75">162</text><text class="v2" x="959" y="88">143694</text><text class="v3" x="959" y="101">-nan(ind)SP</text></g>
</g>

<g id="row29" transform="translate(31.5,4501.5)">
<use href="#grid4"/>
<text class="tp" x="0" y="-33.5">♩=147</text><text class="tp" x="240" y="-33.5">♩=151</text><text class="tp" x="360" y="-33.5">♩=147</text><text class="tp" x="480" y="-33.5">♩=148</text><text class="tp" x="720" y="-33.5">♩=146</text><text class="tp" x="840" y="-33.5">♩=149</text>
<g id="m113"><text class="n" x="0" y="-7.5">113</text><rect y="11.5" width="225" height="7" fill="#ff0000"/><rect y="26.5" width="225" height="7" fill="#ffff00"/><use href="#R"/><use href="#Y"/><text class="v1" x="239" y="75">162</text><text class="v2" x="239" y="88">144666</text><text class="v3" x="239" y="101">-nan(ind)SP</text></g>
<g id="m114"><text class="n" x="240" y="-7.5">114</text><rect x="240" y="11.5" width="225" height="7" fill="#ff0000"/><rect x="240" y="56.5" width="225" height="7" fill="#ffa500"/><use href="#R" x="240"/><use href="#O" x="240"/><text class="v1" x="479" y="75">162</text><text class="v2" x="479" y="88">145638</text><text class="v3" x="479" y="101">-nan(ind)SP</text></g>
<g id="m115"><text class="n" x="480" y="-7.5">115</text><rect x="480" y="11.5" width="150" height="7" fill="#ff0000"/><rect x="480" y="41.5" width="150" height="7" fill="#0000ff"/><use href="#R" x="480"/><use href="#B" x="480"/><text class="v1" x="719" y="75">132</text><text class="v2" x="719" y="88">146430</text><text class="v3" x="719" y="101">-nan(ind)SP</text></g>
<g id="m116"><text class="n" x="720" y="-7.5">116</text><rect x="720" y="-3.5" width="225" height="7" fill="#00ff00"/><rect x="720" y="56.5" width="225" height="7" fill="#ffa500"/><use href="#G" x="720"/><use href="#O" x="720"/><text class="v1" x="959" y="75">162</text><text class="v2" x="959" y="88">147402</text><text class="v3" x="959" y="101">-nan(ind)SP</text></g>
</g>

<g id="row30" transform="translate(31.5,4654.5)">
<use href="#grid4"/>
<text class="tp" x="0" y="-33.5">♩=150</text><text class="tp" x="120" y="-33.5">♩=146</text><text class="tp" x="240" y="-33.5">♩=150</text><text class="tp" x="480" y="-33.5">♩=146</text><text class="tp" x="720" y="-33.5">♩=145</text><text class="tp" x="840" y="-33.5">♩=149</text>
<g id="m117"><text class="n" x="0" y="-7.5">117</text><rect y="11.5" width="225" height="7" fill="#ff0000"/><rect y="26.5" width="225" height="7" fill="#ffff00"/><use href="#R"/><use href="#Y"/><text class="v1" x="239" y="75">162</text><text class="v2" x="239" y="88">148374</text><text class="v3" x="239" y="101">-nan(ind)SP</text></g>
<g id="m118"><text class="n" x="240" y="-7.5">118</text><rect x="240" y="11.5" width="225" height="7" fill="#ff0000"/><rect x="240" y="56.5" width="225" height="7" fill="#ffa500"/><use href="#R" x="240"/><use href="#O" x="240"/><text class="v1" x="479" y="75">162</text><text class="v2" x="479" y="88">149346</text><text class="v3" x="479" y="101">-nan(ind)SP</text></g>
<g id="m119"><text class="n" x="480" y="-7.5">119</text><rect x="480" y="11.5" width="120" height="7" fill="#ff0000"/><rect x="480" y="41.5" width="120" height="7" fill="#0000ff"/><rect x="660" y="56.5" width="45" height="7" fill="#ffa500"/><use href="#R" x="480"/><use href="#B" x="480"/><use href="#O" x="660"/><text class="v1" x="719" y="75">165</text><text class="v2" x="719" y="88">150336</text><text class="v3" x="719" y="101">-nan(ind)SP</text></g>
<g id="m120"><text class="n" x="720" y="-7.5">120</text><use href="#e8YS" x="720"/><rect class="sp" x="719.5" y="-0.5" width="210.5" height="61"/><text class="v1" x="959" y="75">288</text><text class="v2" x="959" y="88">152064</text><text class="v3" x="959" y="101">-nan(ind)SP</text></g>
</g>

<g id="row31" transform="translate(31.5,4807.5)">
<use href="#grid4"/>
<text class="tp" x="0" y="-33.5">♩=152</text><text class="tp" x="60" y="-33.5">♩=145</text><text class="tp" x="240" y="-33.5">♩=149</text><text class="tp" x="420" y="-33.5">♩=148</text><text class="tp" x="480" y="-33.5">♩=150</text><text class="tp" x="540" y="-33.5">♩=151</text><text class="tp" x="720" y="-33.5">♩=148</text>
<g id="m121"><text class="n" x="0" y="-7.5">121</text><use href="#e8B"/><text class="v1" x="239" y="75">288</text><text class="v2" x="239" y="88">153792</text><text class="v3" x="239" y="101">-nan(ind)SP</text></g>
<g id="m122"><text class="n" x="240" y="-7.5">122</text><use href="#e8R" x="240"/><text class="v1" x="479" y="75">288</text><text class="v2" x="479" y="88">155520</text><text class="v3" x="479" y="101">-nan(ind)SP</text></g>
<g id="m123"><text class="n" x="480" y="-7.5">123</text><use href="#e8G" x="480"/><text class="v1" x="719" y="75">288</text><text class="v2" x="719" y="88">157248</text><text class="v3" x="719" y="101">-nan(ind)SP</text></g>
<g id="m124"><text class="n" x="720" y="-7.5">124</text><use href="#e8Y" x="720"/><text class="v1" x="959" y="75">288</text><text class="v2" x="959" y="88">158976</text><text class="v3" x="959" y="101">-nan(ind)SP</text></g>
</g>

<g id="row32" transform="translate(31.5,4960.5)">
<use href="#grid4"/>
<text class="tp" x="0" y="-33.5">♩=147</text><text class="tp" x="240" y="-33.5">♩=149</text><text class="tp" x="480" y="-33.5">♩=148</text><text class="tp" x="720" y="-33.5">♩=138</text><text class="tp" x="780" y="-33.5">♩=148</text>
<g id="m125"><text class="n" x="0" y="-7.5">125</text><use href="#e8B"/><text class="v1" x="239" y="75">288</text><text class="v2" x="239" y="88">160704</text><text class="v3" x="239" y="101">-nan(ind)SP</text></g>
<g id="m126"><text class="n" x="240" y="-7.5">126</text><use href="#e8R" x="240"/><text class="v1" x="479" y="75">288</text><text class="v2" x="479" y="88">162432</text><text class="v3" x="479" y="101">-nan(ind)SP</text></g>
<g id="m127"><text class="n" x="480" y="-7.5">127</text><use href="#e8G" x="480"/><text class="v1" x="719" y="75">288</text><text class="v2" x="719" y="88">164160</text><text class="v3" x="719" y="101">-nan(ind)SP</text></g>
<g id="m128"><text class="n" x="720" y="-7.5">128</text><use href="#e8Y" x="720"/><text class="v1" x="959" y="75">288</text><text class="v2" x="959" y="88">165888</text><text class="v3" x="959" y="101">-nan(ind)SP</text></g>
</g>

<g id="row33" transform="translate(31.5,5113.5)">
<use href="#grid4"/>
<text class="tp" x="0" y="-33.5">♩=147</text><text class="tp" x="240" y="-33.5">♩=149</text><text class="tp" x="360" y="-33.5">♩=151</text><text class="tp" x="480" y="-33.5">♩=148</text><text class="tp" x="600" y="-33.5">♩=149</text><text class="tp" x="720" y="-33.5">♩=148</text>
<g id="m129"><text class="n" x="0" y="-7.5">129</text><use href="#e8B"/><text class="v1" x="239" y="75">288</text><text class="v2" x="239" y="88">167616</text><text class="v3" x="239" y="101">-nan(ind)SP</text></g>
<g id="m130"><text class="n" x="240" y="-7.5">130</text><use href="#e8O" x="240"/><text class="v1" x="479" y="75">288</text><text class="v2" x="479" y="88">169344</text><text class="v3" x="479" y="101">-nan(ind)SP</text></g>
<g id="m131"><text class="n" x="480" y="-7.5">131</text><use href="#e8B" x="480"/><text class="v1" x="719" y="75">288</text><text class="v2" x="719" y="88">171072</text><text class="v3" x="719" y="101">-nan(ind)SP</text></g>
<g id="m132"><text class="n" x="720" y="-7.5">132</text><use href="#e8Y" x="720"/><text class="v1" x="959" y="75">288</text><text class="v2" x="959" y="88">172800</text><text class="v3" x="959" y="101">-nan(ind)SP</text></g>
</g>

<g id="row34" transform="translate(31.5,5266.5)">
<use href="#grid4"/>
<text class="tp" x="0" y="-33.5">♩=147</text><text class="tp" x="240" y="-33.5">♩=149</text><text class="tp" x="480" y="-33.5">♩=146</text><text class="tp" x="600" y="-33.5">♩=148</text>
<g id="m133"><text class="n" x="0" y="-7.5">133</text><use href="#e8B"/><text class="v1" x="239" y="75">288</text><text class="v2" x="239" y="88">174528</text><text class="v3" x="239" y="101">-nan(ind)SP</text></g>
<g id="m134"><text class="n" x="240" y="-7.5">134</text><use href="#e7R" x="240"/><text class="v1" x="479" y="75">252</text><text class="v2" x="479" y="88">176040</text><text class="v3" x="479" y="101">-nan(ind)SP</text></g>
<g id="m135"><text class="n" x="480" y="-7.5">135</text><rect x="600" y="-3.5" width="360" height="7" fill="#00ff00"/><use href="#B" x="480"/><use href="#Y" x="540"/><use href="#G" x="600"/><text class="v1" x="719" y="75">131</text><text class="v2" x="719" y="88">176826</text><text class="v3" x="719" y="101">-nan(ind)SP</text></g>
<g id="m136"><text class="n" x="720" y="-7.5">136</text><text class="v1" x="959" y="75">48</text><text class="v2" x="959" y="88">177114</text><text class="v3" x="959" y="101">-nan(ind)SP</text></g>
</g>

<g id="row35" transform="translate(31.5,5419.5)">
<use href="#grid2"/>
<g id="m137"><text class="n" x="0" y="-7.5">137</text><rect y="-3.5" width="360" height="7" fill="#00ff00"/><text class="v1" x="239" y="75">48</text><text class="v2" x="239" y="88">177402</text><text class="v3" x="239" y="101">-nan(ind)SP</text></g>
<g id="m138"><text class="n" x="240" y="-7.5">138</text><text class="v1" x="479" y="75">25</text><text class="v2" x="479" y="88">177552</text><text class="v3" x="479" y="101">-nan(ind)SP</text></g>
</g>
</svg>
